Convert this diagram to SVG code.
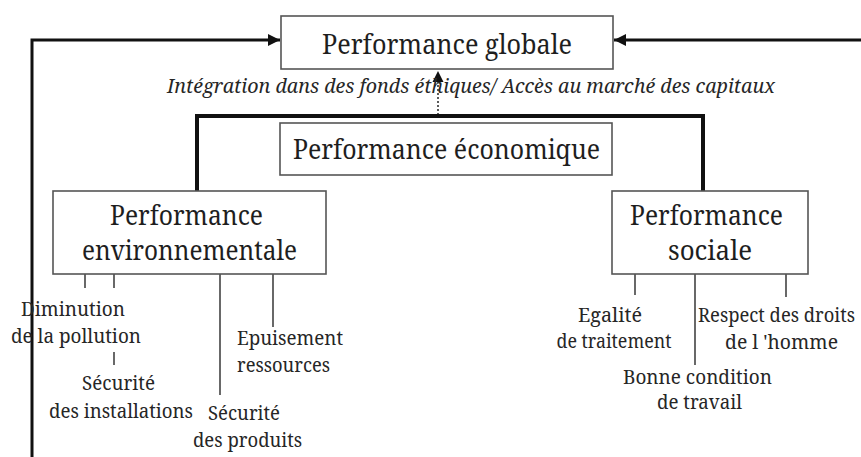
<svg xmlns="http://www.w3.org/2000/svg" width="861" height="457" viewBox="0 0 861 457">
  <style>
    text { font-family: "Noto Serif", "DejaVu Serif", serif; }
    .box { fill: #fff; stroke: #555; stroke-width: 1.6; }
    .big { font-size: 28px; fill: #1e1e1e; text-anchor: middle; }
    .lbl { font-size: 20px; fill: #262626; text-anchor: middle; }
    .ital { font-size: 19px; font-style: italic; fill: #262626; text-anchor: middle; }
    .thick { fill: none; stroke: #111; stroke-width: 4; }
    .flow { fill: none; stroke: #111; stroke-width: 3; }
    .tick { fill: none; stroke: #444; stroke-width: 1.6; }
    .dot { fill: none; stroke: #333; stroke-width: 1.6; stroke-dasharray: 2 2; }
  </style>
  <defs>
    <marker id="head" viewBox="0 0 10 10" refX="10" refY="5" markerWidth="5" markerHeight="4" orient="auto" markerUnits="strokeWidth">
      <path d="M0,0 L10,5 L0,10 Z" fill="#111"/>
    </marker>
    <marker id="headThin" viewBox="0 0 10 10" refX="10" refY="5" markerWidth="7" markerHeight="7" orient="auto" markerUnits="strokeWidth">
      <path d="M0,0 L10,5 L0,10 Z" fill="#111"/>
    </marker>
  </defs>

  <rect width="861" height="457" fill="#fff"/>

  <g id="connectors">
    <!-- feedback loops into global performance -->
    <path class="flow" d="M32,457 L32,40 L280,40" marker-end="url(#head)"/>
    <path class="flow" d="M861,40 L614,40" marker-end="url(#head)"/>
    <!-- economic link to global performance -->
    <path class="dot" d="M438,115 L438,71" marker-end="url(#headThin)"/>
    <!-- bracket joining environmental and social pillars -->
    <path class="thick" d="M197,191 L197,116 L703,116 L703,191"/>
    <!-- environmental branches -->
    <path class="tick" d="M85,274 V288 M114,274 V288 M114,352 V365 M220,274 V395 M273,274 V327"/>
    <!-- social branches -->
    <path class="tick" d="M635,274 V295 M695,274 V365 M786,274 V297"/>
  </g>

  <g id="globale">
    <rect class="box" x="281" y="16" width="332" height="53"/>
    <text class="big" x="447" y="54" textLength="250" lengthAdjust="spacingAndGlyphs">Performance globale</text>
  </g>

  <g id="integration">
    <text class="ital" x="471" y="93" textLength="608" lengthAdjust="spacingAndGlyphs">Intégration dans des fonds éthiques/ Accès au marché des capitaux</text>
  </g>

  <g id="economique">
    <rect class="box" x="280" y="123" width="332" height="52"/>
    <text class="big" x="446.5" y="159" textLength="307" lengthAdjust="spacingAndGlyphs">Performance économique</text>
  </g>

  <g id="environnementale">
    <rect class="box" x="53" y="191" width="273" height="83"/>
    <text class="big" x="186.5" y="225" textLength="153" lengthAdjust="spacingAndGlyphs">Performance</text>
    <text class="big" x="189.5" y="260" textLength="215" lengthAdjust="spacingAndGlyphs">environnementale</text>
  </g>

  <g id="sociale">
    <rect class="box" x="612" y="191" width="196" height="83"/>
    <text class="big" x="706.5" y="225" textLength="153" lengthAdjust="spacingAndGlyphs">Performance</text>
    <text class="big" x="710" y="260" textLength="84" lengthAdjust="spacingAndGlyphs">sociale</text>
  </g>

  <g id="pollution">
    <text class="lbl" x="73" y="316" textLength="104" lengthAdjust="spacingAndGlyphs">Diminution</text>
    <text class="lbl" x="76" y="343" textLength="130" lengthAdjust="spacingAndGlyphs">de la pollution</text>
  </g>
  <g id="installations">
    <text class="lbl" x="118.5" y="390" textLength="73" lengthAdjust="spacingAndGlyphs">Sécurité</text>
    <text class="lbl" x="121" y="418" textLength="144" lengthAdjust="spacingAndGlyphs">des installations</text>
  </g>
  <g id="ressources">
    <text class="lbl" x="290" y="345" textLength="106" lengthAdjust="spacingAndGlyphs">Epuisement</text>
    <text class="lbl" x="283.5" y="372" textLength="93" lengthAdjust="spacingAndGlyphs">ressources</text>
  </g>
  <g id="produits">
    <text class="lbl" x="244" y="420" textLength="72" lengthAdjust="spacingAndGlyphs">Sécurité</text>
    <text class="lbl" x="247.5" y="447" textLength="109" lengthAdjust="spacingAndGlyphs">des produits</text>
  </g>

  <g id="egalite">
    <text class="lbl" x="610" y="322" textLength="64" lengthAdjust="spacingAndGlyphs">Egalité</text>
    <text class="lbl" x="614" y="348" textLength="115" lengthAdjust="spacingAndGlyphs">de traitement</text>
  </g>
  <g id="droits">
    <text class="lbl" x="776.5" y="322" textLength="157" lengthAdjust="spacingAndGlyphs">Respect des droits</text>
    <text class="lbl" x="781.5" y="349" textLength="113" lengthAdjust="spacingAndGlyphs">de l 'homme</text>
  </g>
  <g id="travail">
    <text class="lbl" x="697.5" y="384" textLength="149" lengthAdjust="spacingAndGlyphs">Bonne condition</text>
    <text class="lbl" x="699.5" y="409" textLength="85" lengthAdjust="spacingAndGlyphs">de travail</text>
  </g>
</svg>
